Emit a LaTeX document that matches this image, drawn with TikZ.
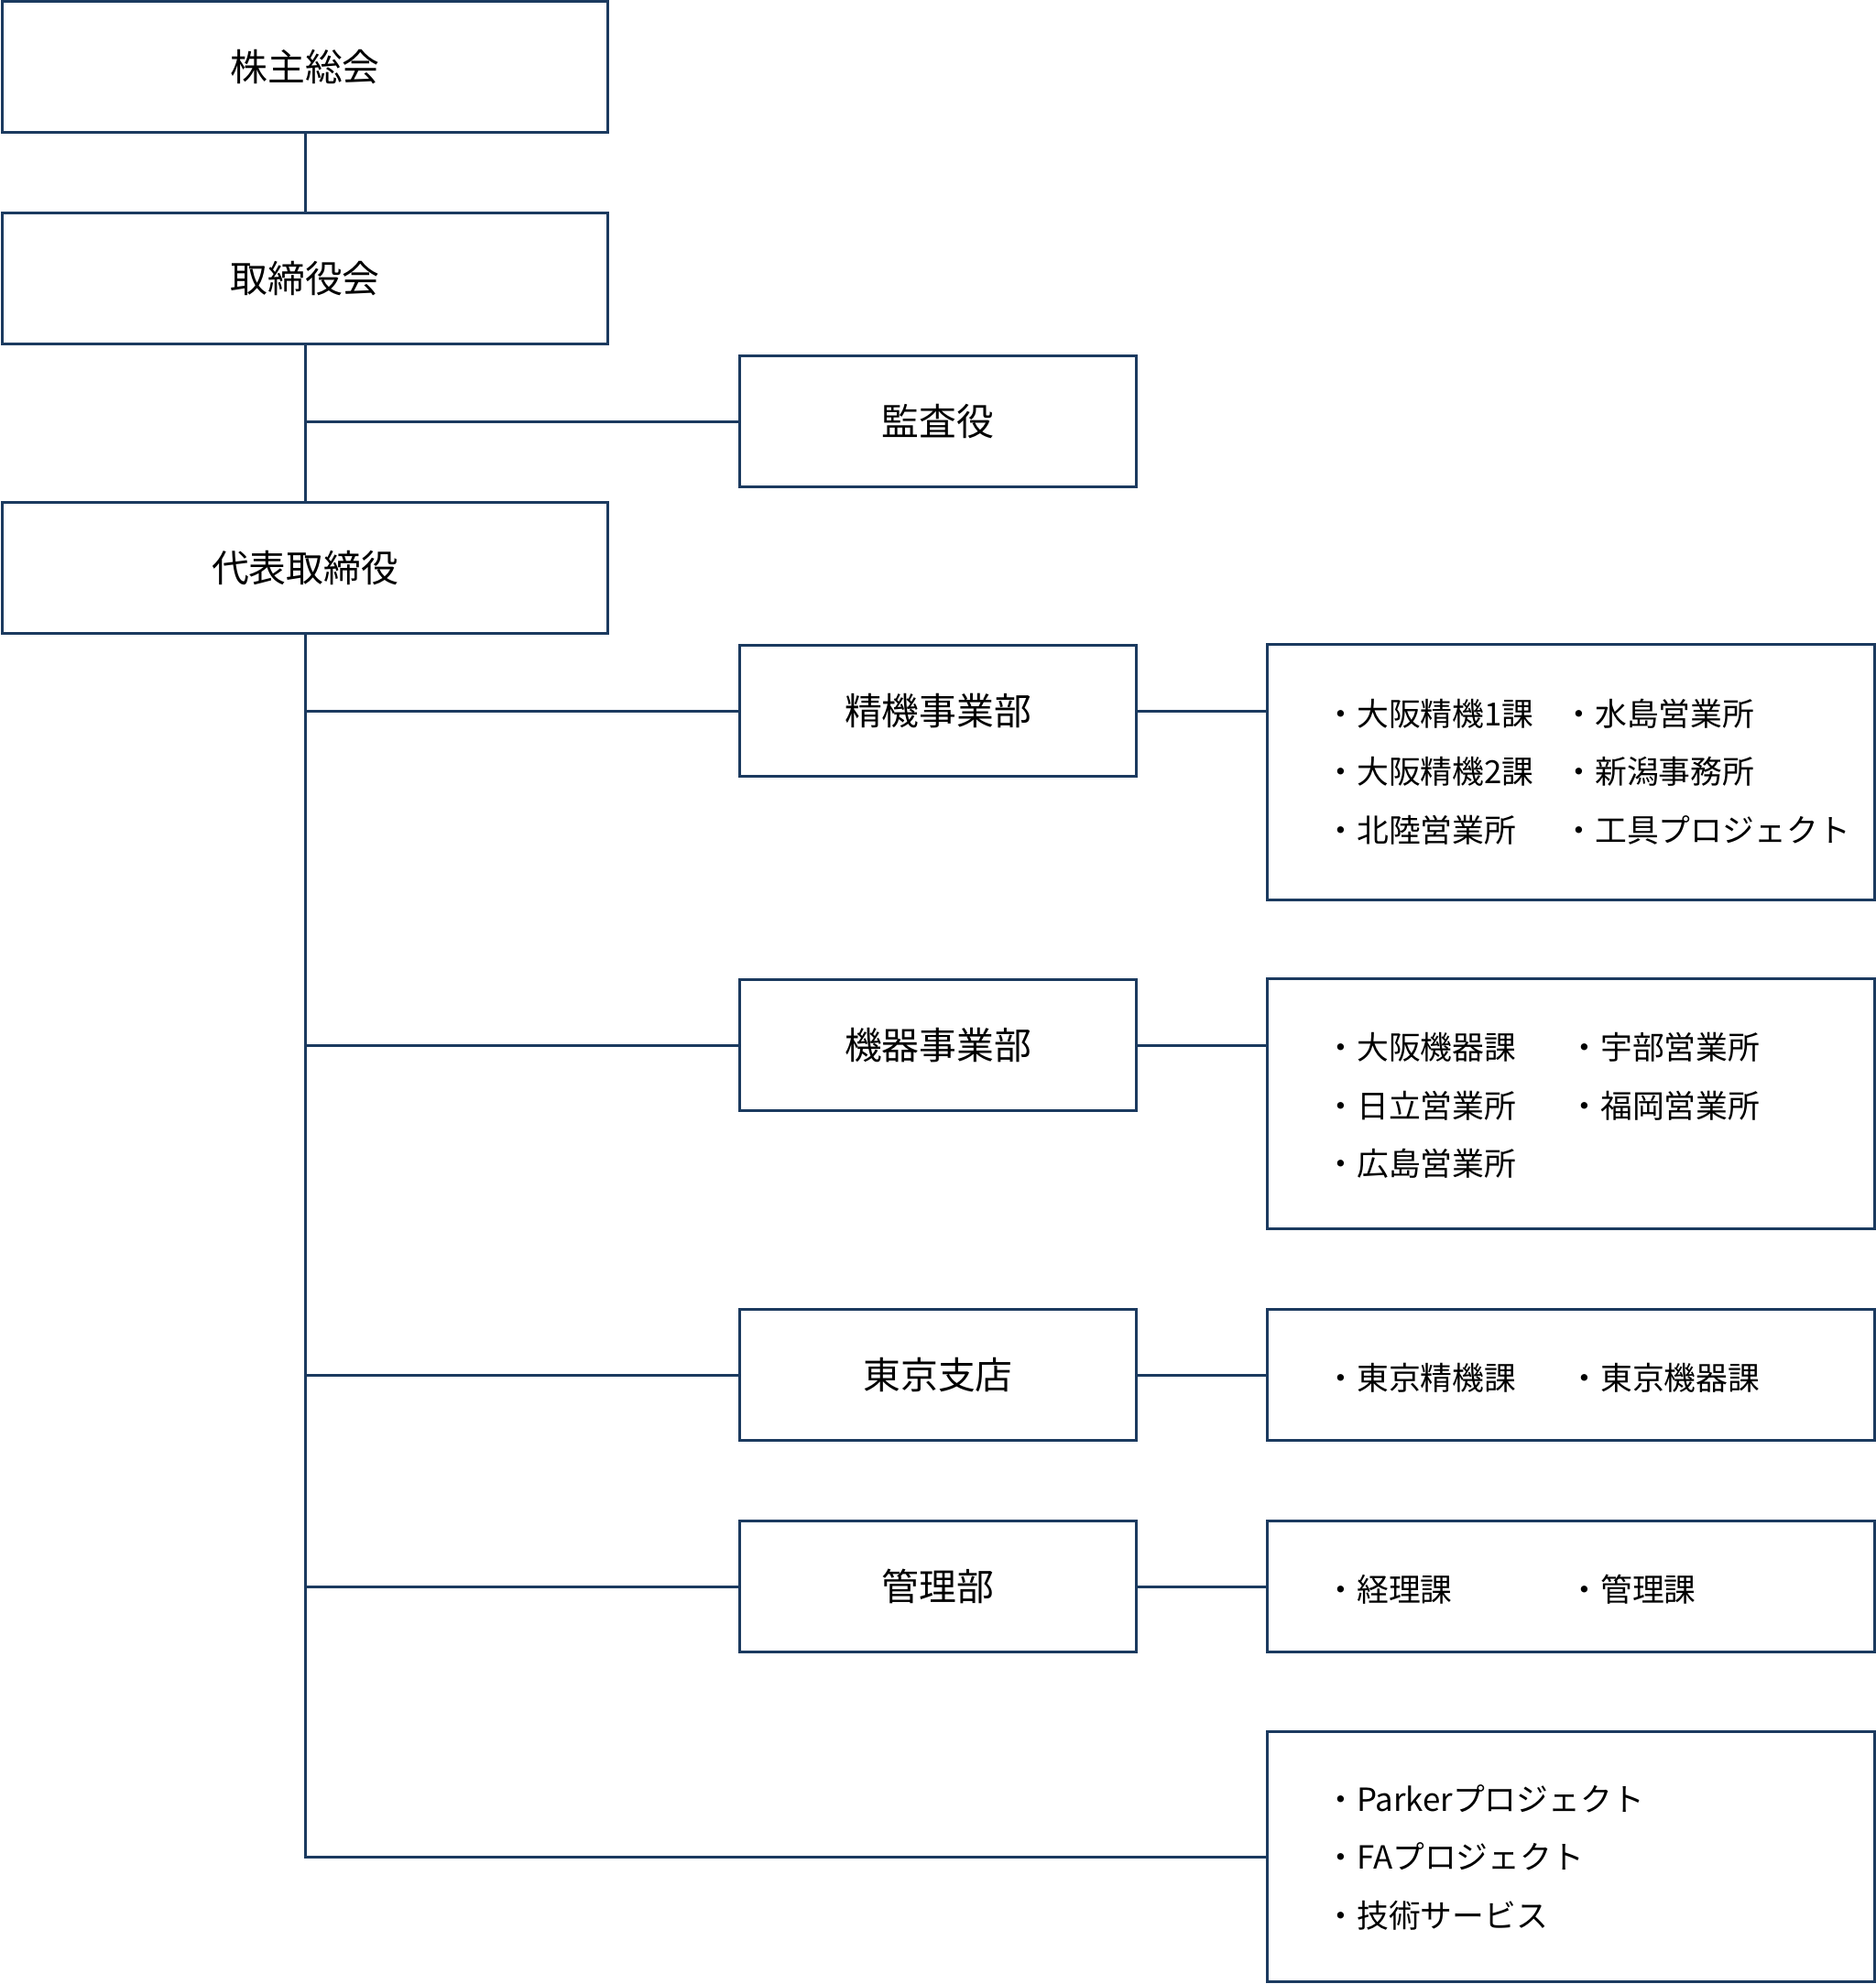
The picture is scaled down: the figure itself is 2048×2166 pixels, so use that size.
\documentclass[tikz,border=0pt]{standalone}
\usepackage{fontspec}
\setmainfont{Noto Sans CJK JP}
\usepackage{tikz}
\usetikzlibrary{positioning}
\definecolor{navy}{HTML}{1B3A5F}

\begin{document}
\begin{tikzpicture}[x=0.01cm, y=-0.01cm, line width=0.03cm, draw=navy,
    orgbox/.style={rectangle, draw=navy, minimum width=6.61cm, minimum height=1.43cm, font=\fontsize{11.6}{14}\selectfont},
    deptbox/.style={rectangle, draw=navy, minimum width=4.32cm, minimum height=1.43cm, font=\fontsize{11.6}{14}\selectfont},
    listbox/.style={rectangle, draw=navy, minimum width=6.62cm},
    item/.style={anchor=west, inner sep=0pt, font=\fontsize{9.9}{12}\selectfont}]
        \useasboundingbox (0,0) rectangle (2048,2166);

        % Top of the organisation
        \node[orgbox] (kabunushi) at (333,73) {株主総会};
        \node[orgbox] (torishimari) at (333,304) {取締役会};
        \node[deptbox] (kansa) at (1024,460) {監査役};
        \node[orgbox] (daihyo) at (333,620) {代表取締役};

        % Departments
        \node[deptbox] (seiki) at (1024,776) {精機事業部};
        \node[deptbox] (kiki) at (1024,1141) {機器事業部};
        \node[deptbox] (tokyo) at (1024,1501) {東京支店};
        \node[deptbox] (kanri) at (1024,1732) {管理部};

        % Sections
        \node[listbox, minimum height=2.78cm] (sub1) at (1715,843) {};
        \node[listbox, minimum height=2.73cm] (sub2) at (1715,1205) {};
        \node[listbox, minimum height=1.43cm] (sub3) at (1715,1501) {};
        \node[listbox, minimum height=1.43cm] (sub4) at (1715,1732) {};
        \node[listbox, minimum height=2.72cm] (sub5) at (1715,2027) {};

        \foreach \n/\y/\a/\b in {1/779/大阪精機1課/水島営業所, 2/842/大阪精機2課/新潟事務所, 3/906/北陸営業所/工具プロジェクト} {
            \node[item] (s1a\n) at (1445,\y) {・\a};
            \node[item] (s1b\n) at (1705,\y) {・\b};
        }
        \foreach \n/\y/\a/\b in {1/1143/大阪機器課/宇部営業所, 2/1207/日立営業所/福岡営業所} {
            \node[item] (s2a\n) at (1445,\y) {・\a};
            \node[item] (s2b\n) at (1711,\y) {・\b};
        }
        \node[item] (s2a3) at (1445,1270) {・広島営業所};
        \node[item] (s3a) at (1445,1504) {・東京精機課};
        \node[item] (s3b) at (1711,1504) {・東京機器課};
        \node[item] (s4a) at (1445,1735) {・経理課};
        \node[item] (s4b) at (1711,1735) {・管理課};
        \foreach \n/\y/\a in {1/1964/Parkerプロジェクト, 2/2027/FAプロジェクト, 3/2091/技術サービス} {
            \node[item] (s5a\n) at (1445,\y) {・\a};
        }

        % Lines
        \draw (kabunushi) -- (torishimari);
        \draw (torishimari) -- (daihyo);
        \draw (kansa.west) -- (kansa.west -| torishimari.south);
        \draw (daihyo.south) |- (sub5.west);
        \foreach \d/\s in {seiki/sub1, kiki/sub2, tokyo/sub3, kanri/sub4} {
            \draw (\d.west -| daihyo.south) -- (\d.west);
            \draw (\d.east) -- (\d.east -| \s.west);
        }
\end{tikzpicture}
\end{document}
